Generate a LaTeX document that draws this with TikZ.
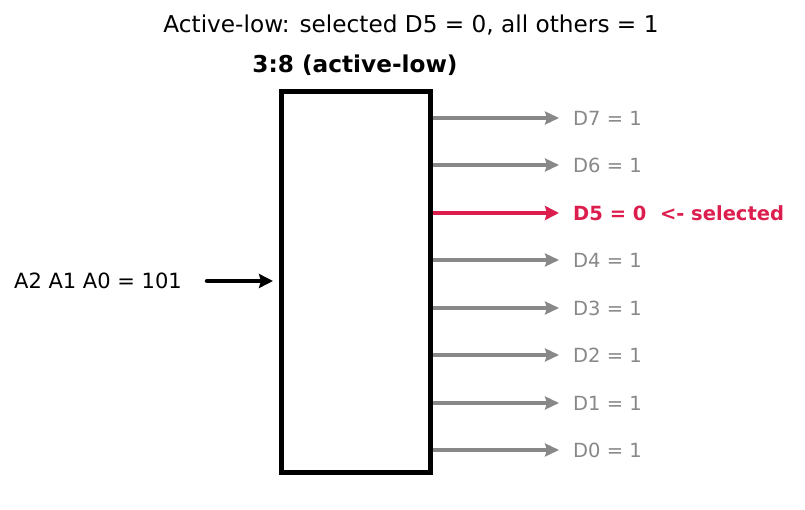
\documentclass[tikz,border=0pt]{standalone}
\usepackage{fontspec}
\setmainfont{DejaVu Sans}
\usetikzlibrary{arrows.meta}
\definecolor{offgray}{RGB}{136,136,136}
\definecolor{selred}{RGB}{220,30,78}
\begin{document}
\begin{tikzpicture}[x=1pt,y=-1pt,
  lbl/.style={anchor=west,inner sep=0pt,font=\fontsize{19.5}{22}\selectfont},
  outarrow/.style={draw=offgray,line width=3.5pt,-{Stealth[length=14pt,width=13pt,inset=2pt]}},
  selarrow/.style={draw=selred,line width=4.5pt,-{Stealth[length=14pt,width=14pt,inset=2pt]}}]
\useasboundingbox (0,0) rectangle (805,510);
\node[inner sep=0pt,font=\fontsize{23.2}{26}\selectfont] (title) at (411,25) {Active-low: selected D5 = 0, all others = 1};
\node[inner sep=0pt,font=\fontsize{23.2}{26}\selectfont\bfseries] (sub) at (355,65) {3:8 (active-low)};
\node[draw=black,line width=5pt,minimum width=148.5pt,minimum height=380.5pt,inner sep=0pt] (box) at (355.75,281.75) {};
\node[inner sep=0pt,anchor=west,font=\fontsize{21}{24}\selectfont] (in) at (14,281) {A2 A1 A0 = 101};
\coordinate (ins) at (207,281);
\draw[line width=4.5pt,line cap=round,shorten >=6pt,-{Stealth[length=14pt,width=14pt,inset=2pt]}] (ins) -- (box.west |- ins);
\foreach \i/\y/\v in {7/118/1,6/165/1,4/260/1,3/308/1,2/355/1,1/403/1,0/450/1}{
  \coordinate (s\i) at (box.east |- 0,\y);
  \node[lbl,text=offgray] (d\i) at (573,\y) {D\i\ = \v};
  \draw[outarrow] (s\i) -- ([xshift=-14pt]d\i.west);
}
\coordinate (s5) at (box.east |- 0,213);
\node[lbl,text=selred,font=\fontsize{19.5}{22}\selectfont\bfseries] (d5) at (573,213) {D5 = 0 \ <- selected};
\draw[selarrow] (s5) -- ([xshift=-14pt]d5.west);
\end{tikzpicture}
\end{document}
